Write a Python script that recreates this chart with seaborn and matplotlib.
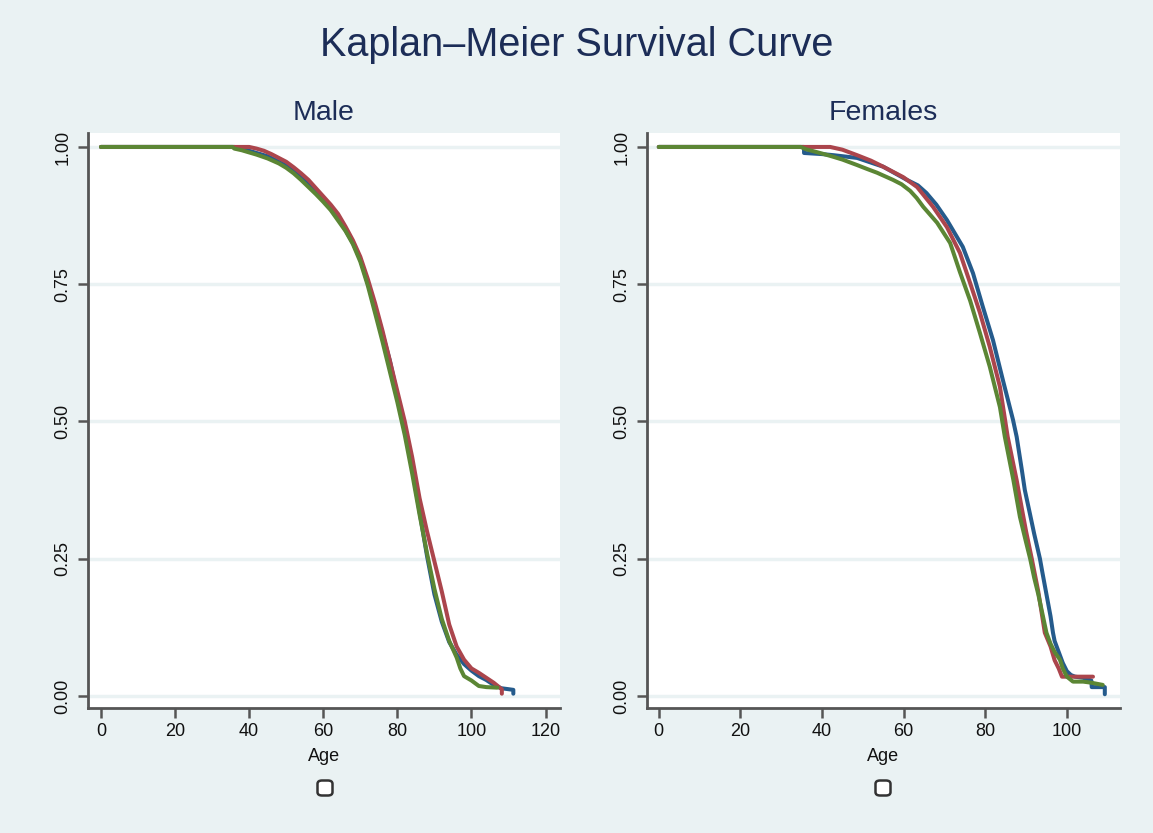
import numpy as np
import pandas as pd
import matplotlib
matplotlib.use("Agg")
import matplotlib.pyplot as plt
import seaborn as sns
from matplotlib.patches import FancyBboxPatch

# ---------------- data ----------------
groups = ["1", "2", "3"]

male_blue_age = [0, 36, 38, 40, 45, 50, 55, 60, 65, 68, 70, 72, 75, 78, 80, 82, 85, 88, 90, 92, 94,
                 96, 98, 100, 102, 104, 106, 108, 111.3, 111.3]
male_blue_surv = [1, 1, 0.997, 0.993, 0.983, 0.966, 0.94, 0.905, 0.86, 0.825, 0.795, 0.752, 0.685, 0.61,
                  0.548, 0.49, 0.375, 0.255, 0.185, 0.135, 0.098, 0.075, 0.058, 0.046, 0.036, 0.029, 0.02,
                  0.014, 0.011, 0.004]

male_red_age = [0, 40, 42, 44, 46, 48, 50, 52, 54, 56, 58, 60, 62, 64, 66, 68, 70, 72, 74, 76, 78, 80,
                82, 84, 86, 88, 90, 92, 94, 96, 98, 100, 102, 104, 106, 108.2, 108.2]
male_red_surv = [1, 1, 0.997, 0.993, 0.987, 0.98, 0.973, 0.963, 0.952, 0.94, 0.925, 0.91, 0.895, 0.878,
                 0.855, 0.83, 0.80, 0.76, 0.715, 0.665, 0.61, 0.555, 0.50, 0.435, 0.36, 0.30, 0.245, 0.19,
                 0.13, 0.09, 0.066, 0.05, 0.042, 0.033, 0.024, 0.012, 0.004]

male_green_age = [0, 35.5, 36, 38, 40, 42, 45, 48, 50, 52, 54, 56, 58, 60, 62, 64, 66, 68, 70, 72, 74,
                  76, 78, 80, 82, 84, 86, 88, 90, 92, 94, 96, 97, 98, 100, 102, 104, 107]
male_green_surv = [1, 1, 0.997, 0.994, 0.99, 0.986, 0.979, 0.97, 0.962, 0.952, 0.94, 0.927, 0.914, 0.90,
                   0.885, 0.866, 0.847, 0.823, 0.791, 0.748, 0.697, 0.645, 0.59, 0.535, 0.475, 0.405, 0.33,
                   0.26, 0.195, 0.14, 0.10, 0.07, 0.05, 0.036, 0.028, 0.018, 0.016, 0.015]

female_blue_age = [0, 35.6, 35.6, 40, 42.8, 48.6, 55, 60.8, 63.5, 65.6, 68, 70.6, 74.5, 77, 79.4, 81.9,
                   84.3, 86.8, 87.7, 89, 89.7, 91, 92, 93.4, 94, 95, 96, 96.6, 97, 98, 99, 100, 101, 102,
                   104, 106, 106.1, 109.3, 109.3]
female_blue_surv = [1, 1, 0.989, 0.987, 0.985, 0.98, 0.964, 0.94, 0.93, 0.916, 0.895, 0.867, 0.818, 0.77,
                    0.709, 0.648, 0.576, 0.503, 0.472, 0.41, 0.375, 0.33, 0.295, 0.25, 0.225, 0.185,
                    0.145, 0.115, 0.10, 0.08, 0.06, 0.045, 0.038, 0.035, 0.033, 0.028, 0.016, 0.016,
                    0.003]

female_red_age = [0, 42, 45, 48.6, 52, 55, 59.9, 63.3, 67.2, 70.6, 73.8, 76.3, 78.7, 81.1, 83.6, 85.5,
                  87.7, 89, 90, 91.4, 93, 94.6, 96, 97, 98, 98.8, 106.4]
female_red_surv = [1, 1, 0.995, 0.985, 0.975, 0.964, 0.945, 0.927, 0.891, 0.854, 0.807, 0.752, 0.698,
                   0.636, 0.563, 0.472, 0.393, 0.34, 0.30, 0.25, 0.19, 0.115, 0.09, 0.065, 0.05, 0.035,
                   0.035]

female_green_age = [0, 34.8, 36, 38, 40, 42.8, 45, 48.6, 51, 53.5, 57.4, 59.5, 61.6, 63.2, 64.8, 68.2,
                    71.4, 73.8, 76.3, 78.7, 81.1, 83.6, 84.8, 86.9, 88.5, 90, 91, 92, 93, 95, 96, 97,
                    98.3, 99, 100, 101.5, 104, 106, 108.8]
female_green_surv = [1, 1, 0.996, 0.992, 0.988, 0.982, 0.977, 0.967, 0.96, 0.953, 0.94, 0.932, 0.92,
                     0.907, 0.891, 0.862, 0.825, 0.772, 0.72, 0.661, 0.6, 0.526, 0.472, 0.393, 0.326,
                     0.28, 0.25, 0.215, 0.185, 0.115, 0.095, 0.08, 0.066, 0.05, 0.035, 0.026, 0.026,
                     0.024, 0.02]

y_ticks = [0, 0.25, 0.5, 0.75, 1.0]
y_labels = ["0.00", "0.25", "0.50", "0.75", "1.00"]
male_xticks = [0, 20, 40, 60, 80, 100, 120]
female_xticks = [0, 20, 40, 60, 80, 100]

title = "Kaplan\u2013Meier Survival Curve"
panel_titles = ["Male", "Females"]
x_label = "Age"


def long_frame(series):
    parts = []
    for g, (a, s) in zip(groups, series):
        parts.append(pd.DataFrame({"age": a, "surv": s, "group": g}))
    return pd.concat(parts, ignore_index=True)


male_df = long_frame([(male_blue_age, male_blue_surv),
                      (male_red_age, male_red_surv),
                      (male_green_age, male_green_surv)])
female_df = long_frame([(female_blue_age, female_blue_surv),
                        (female_red_age, female_red_surv),
                        (female_green_age, female_green_surv)])

# ---------------- style ----------------
sns.set_theme(style="white")
plt.rcParams["font.family"] = ["Liberation Sans", "DejaVu Sans"]

BG = "#EAF2F3"
NAVY = "#1c2d57"
AXC = "#555555"
palette = {"1": "#255b8c", "2": "#ab454c", "3": "#5b8634"}

fig = plt.figure(figsize=(11.53, 8.33), dpi=100, facecolor=BG)
axM = fig.add_axes([0.0763, 0.1501, 0.4094, 0.6903])
axF = fig.add_axes([0.5611, 0.1501, 0.4102, 0.6903])

panels = [(axM, male_df, male_xticks, (-3.5, 123.9)),
          (axF, female_df, female_xticks, (-2.9, 113.0))]

for ax, df, xt, xl in panels:
    ax.set_facecolor("white")
    sns.lineplot(data=df, x="age", y="surv", hue="group", hue_order=groups, palette=palette,
                 estimator=None, sort=False, linewidth=2.9, legend=False, ax=ax)
    ax.set_xlim(*xl)
    ax.set_ylim(-0.022, 1.0255)
    ax.set_xticks(xt)
    ax.set_xticklabels([str(v) for v in xt])
    ax.set_yticks(y_ticks)
    ax.set_yticklabels(y_labels, rotation=90, va="center")
    ax.yaxis.grid(True, color=BG, linewidth=2.5)
    ax.xaxis.grid(False)
    ax.set_axisbelow(True)
    for s in ["top", "right"]:
        ax.spines[s].set_visible(False)
    for s in ["left", "bottom"]:
        ax.spines[s].set_color(AXC)
        ax.spines[s].set_linewidth(2.0)
    ax.tick_params(direction="out", length=7, width=1.8, color=AXC, labelsize=13,
                   labelcolor="#111111", left=True, bottom=True)
    ax.tick_params(axis="y", pad=5)
    ax.set_xlabel(x_label, fontsize=13, color="#111111", labelpad=6)
    ax.set_ylabel("")

axM.set_title(panel_titles[0], fontsize=20.5, color=NAVY, pad=9)
axF.set_title(panel_titles[1], fontsize=20.5, color=NAVY, pad=9)

fig.suptitle(title, x=0.5, y=1 - 45 / 833, va="center", fontsize=28.5, color=NAVY)

# empty legend keys under each panel
for cx in (325, 883):
    w, h = 15, 15
    box = FancyBboxPatch(((cx - w / 2) / 1153, 1 - (788 + h / 2) / 833), w / 1153, h / 833,
                         boxstyle="round,pad=0,rounding_size=0.004", transform=fig.transFigure,
                         facecolor="white", edgecolor="#333333", linewidth=1.8)
    fig.add_artist(box)

fig.savefig("out.png", dpi=100, facecolor=BG)
